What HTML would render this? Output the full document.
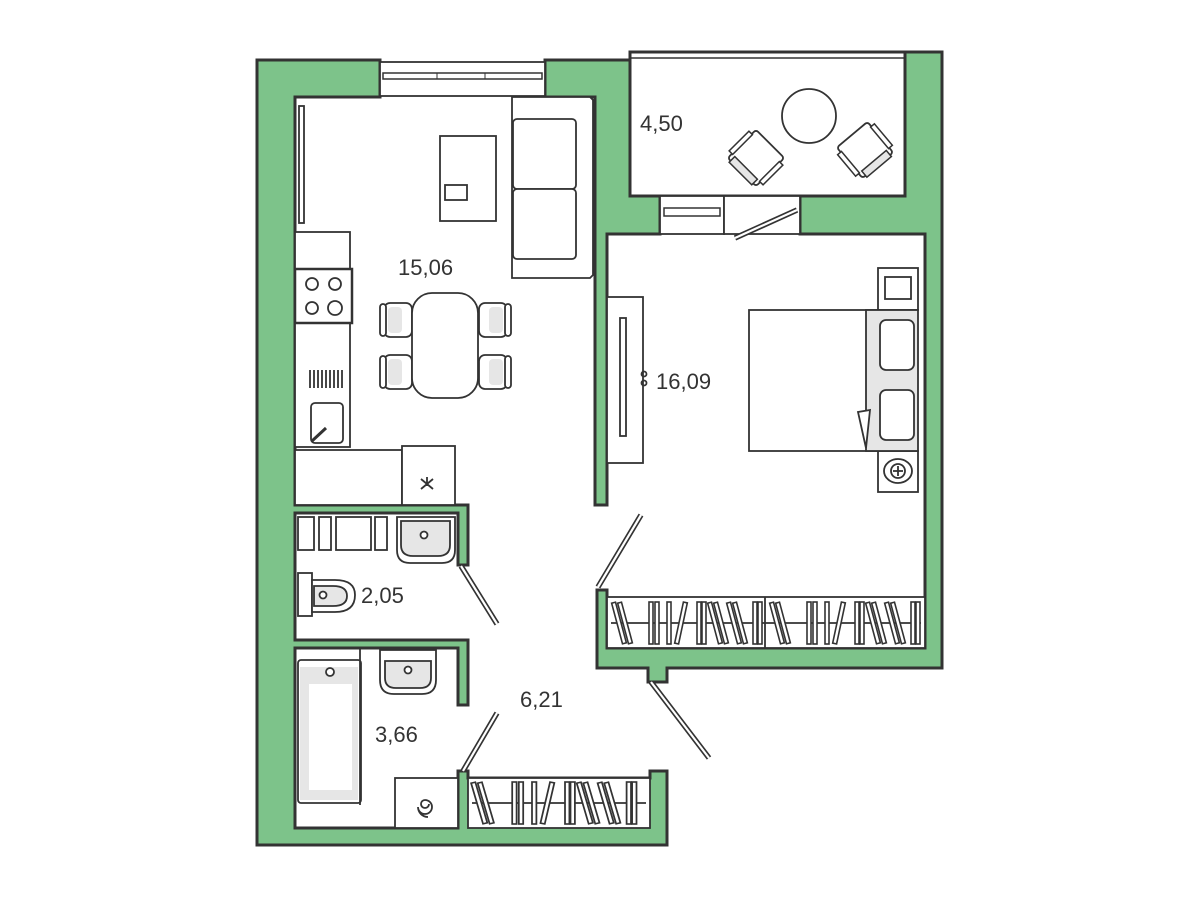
<!DOCTYPE html>
<html><head><meta charset="utf-8"><style>
html,body{margin:0;padding:0;background:#fff;width:1200px;height:900px;overflow:hidden}
svg{display:block}
text{font-family:"Liberation Sans",sans-serif;font-size:22px;fill:#333}
</style></head><body>
<svg width="1200" height="900" viewBox="0 0 1200 900" xmlns="http://www.w3.org/2000/svg">
<defs>
<g id="h"><rect x="-2" y="-21" width="4" height="42" fill="#fff" stroke="#333" stroke-width="1.6"/></g>
<g id="half">
<use href="#h" transform="translate(12,0) rotate(-15)"/>
<use href="#h" transform="translate(18,0) rotate(-15)"/>
<use href="#h" transform="translate(44,0)"/>
<use href="#h" transform="translate(50,0)"/>
<use href="#h" transform="translate(62,0)"/>
<use href="#h" transform="translate(74,0) rotate(12)"/>
<use href="#h" transform="translate(92,0)"/>
<use href="#h" transform="translate(97,0)"/>
<use href="#h" transform="translate(108,0) rotate(-15)"/>
<use href="#h" transform="translate(114,0) rotate(-15)"/>
<use href="#h" transform="translate(127,0) rotate(-15)"/>
<use href="#h" transform="translate(133,0) rotate(-15)"/>
<use href="#h" transform="translate(148,0)"/>
<use href="#h" transform="translate(153,0)"/>
</g>
<g id="chair"><rect x="-14" y="-17" width="28" height="34" rx="6" fill="#fff" stroke="#333" stroke-width="1.8"/><rect x="-10" y="-13" width="14" height="26" rx="4" fill="#e6e6e6" stroke="none"/><rect x="-18" y="-16" width="6" height="32" rx="3" fill="#fff" stroke="#333" stroke-width="1.8"/></g>
<g id="bchair"><rect x="-20" y="-20" width="40" height="40" rx="3" fill="#fff" stroke="#333" stroke-width="1.8"/><rect x="-24" y="-14" width="5" height="28" fill="#fff" stroke="#333" stroke-width="1.5"/><rect x="19" y="-14" width="5" height="28" fill="#fff" stroke="#333" stroke-width="1.5"/><rect x="-16" y="14" width="32" height="8" fill="#e6e6e6" stroke="#333" stroke-width="1.5"/></g>
</defs>
<g fill="#7dc38a" stroke="#333" stroke-width="3">
<path d="M257,60 H380 V97 H295 V505 H468 V565 H458 V513 H295 V640 H468 V705 H458 V648 H295 V828 H458 V771 H468 V778 H650 V771 H667 V845 H257 Z"/>
<path d="M545,60 H630 V196 H660 V234 H607 V505 H595 V97 H545 Z"/>
<path d="M800,196 H905 V52 H942 V668 H667 V682 H648 V668 H597 V590 H607 V648 H925 V234 H800 Z"/>
</g>
<rect x="380" y="62" width="165" height="34" fill="#fff" stroke="#333" stroke-width="1.8"/>
<rect x="383" y="73" width="159" height="6" fill="#fff" stroke="#333" stroke-width="1.5"/>
<line x1="437" y1="73" x2="437" y2="79" stroke="#333"/><line x1="485" y1="73" x2="485" y2="79" stroke="#333"/>
<rect x="630" y="52" width="275" height="144" fill="#fff" stroke="#333" stroke-width="3"/>
<line x1="630" y1="58" x2="905" y2="58" stroke="#333" stroke-width="1.5"/>
<rect x="660" y="196" width="64" height="38" fill="#fff" stroke="#333" stroke-width="1.8"/>
<rect x="664" y="208" width="56" height="8" fill="#fff" stroke="#333" stroke-width="1.5"/>
<rect x="724" y="196" width="76" height="38" fill="#fff" stroke="#333" stroke-width="1.8"/>
<g stroke="#333" stroke-width="5.5"><line x1="735" y1="238" x2="797" y2="210"/><line x1="598" y1="587" x2="641" y2="515"/><line x1="461" y1="566" x2="497" y2="624"/><line x1="463" y1="771" x2="497" y2="713"/><line x1="651" y1="682" x2="709" y2="758"/></g>
<g stroke="#fff" stroke-width="2.2"><line x1="735" y1="238" x2="797" y2="210"/><line x1="598" y1="587" x2="641" y2="515"/><line x1="461" y1="566" x2="497" y2="624"/><line x1="463" y1="771" x2="497" y2="713"/><line x1="651" y1="682" x2="709" y2="758"/></g>
<g fill="#fff" stroke="#333" stroke-width="1.8">
<rect x="299" y="106" width="5" height="117"/>
<path d="M512,97 H590 L593,100 V275 L590,278 H512 Z"/>
<rect x="513" y="119" width="63" height="70" rx="4"/><rect x="513" y="189" width="63" height="70" rx="4"/>
<rect x="440" y="136" width="56" height="85"/>
<rect x="445" y="185" width="22" height="15"/>
<rect x="295" y="232" width="55" height="215"/>
<rect x="295" y="269" width="57" height="54" stroke-width="2.5"/>
<circle cx="312" cy="284" r="6"/><circle cx="335" cy="284" r="6"/><circle cx="312" cy="308" r="6"/><circle cx="335" cy="308" r="7"/>
<rect x="311" y="403" width="32" height="40" rx="4"/>
<rect x="295" y="450" width="107" height="55"/>
<rect x="402" y="446" width="53" height="59"/>
<use href="#chair" transform="translate(398,320)"/><use href="#chair" transform="translate(398,372)"/>
<use href="#chair" transform="translate(493,320) scale(-1,1)"/><use href="#chair" transform="translate(493,372) scale(-1,1)"/>
<rect x="412" y="293" width="66" height="105" rx="20"/>
<circle cx="809" cy="116" r="27"/>
<use href="#bchair" transform="translate(756,158) rotate(45)"/>
<use href="#bchair" transform="translate(865,150) rotate(-40)"/>
<rect x="607" y="297" width="36" height="166"/>
<rect x="620" y="318" width="6" height="118"/>
<rect x="878" y="268" width="40" height="42"/>
<rect x="885" y="277" width="26" height="22"/>
<rect x="878" y="451" width="40" height="41"/>
<ellipse cx="898" cy="471" rx="14" ry="12"/><circle cx="898" cy="471" r="7"/>
<rect x="749" y="310" width="130" height="141"/>
<rect x="866" y="310" width="52" height="141" fill="#e6e6e6"/>
<rect x="880" y="320" width="34" height="50" rx="6"/><rect x="880" y="390" width="34" height="50" rx="6"/>
<path d="M870,410 L858,412 L866,448 Z"/>
<rect x="607" y="597" width="318" height="51"/>
<line x1="765" y1="597" x2="765" y2="648"/>
<rect x="468" y="778" width="182" height="50"/>
<rect x="298" y="517" width="16" height="33"/><rect x="319" y="517" width="12" height="33"/><rect x="336" y="517" width="35" height="33"/><rect x="375" y="517" width="12" height="33"/>
<path d="M397,517 H455 V550 Q455,563 442,563 H410 Q397,563 397,550 Z"/>
<path d="M401,521 H450 V545 Q450,556 438,556 H413 Q401,556 401,545 Z" fill="#e6e6e6"/>
<circle cx="424" cy="535" r="3.5"/>
<rect x="298" y="573" width="14" height="43"/>
<path d="M312,580 H335 Q355,580 355,595 Q355,612 335,612 H312 Z"/>
<path d="M314,586 H333 Q347,586 347,596 Q347,606 333,606 H314 Z" fill="#e6e6e6"/>
<circle cx="323" cy="595" r="3.5"/>
<rect x="298" y="660" width="63" height="143" rx="3"/>
<rect x="300" y="667" width="58" height="133" fill="#e6e6e6" stroke="none"/>
<rect x="309" y="684" width="43" height="106" stroke="none"/>
<circle cx="330" cy="672" r="4"/>
<line x1="360" y1="648" x2="360" y2="805"/>
<path d="M380,650 H436 V680 Q436,694 422,694 H394 Q380,694 380,680 Z"/>
<path d="M385,661 H431 V678 Q431,688 420,688 H396 Q385,688 385,678 Z" fill="#e6e6e6"/>
<circle cx="408" cy="670" r="3.5"/>
<rect x="395" y="778" width="63" height="50"/>
</g>
<g stroke="#333" stroke-width="1.8" fill="none">
<path d="M312,441 L326,428" stroke-width="3"/>
<path d="M310,370 v18 M314,370 v18 M318,370 v18 M322,370 v18 M326,370 v18 M330,370 v18 M334,370 v18 M338,370 v18 M342,370 v18"/>
<path d="M421,479 l12,10 M433,479 l-12,10 M427,477 v9"/>
<path d="M429,804 a4,4 0 1 1 -4,-4 a7,7 0 1 1 -7,7 a10,10 0 0 0 10,10"/>
<line x1="893" y1="471" x2="903" y2="471"/><line x1="898" y1="466" x2="898" y2="476"/>
<line x1="611" y1="623" x2="921" y2="623"/><line x1="472" y1="803" x2="646" y2="803"/>
<circle cx="644" cy="374" r="2.5"/><circle cx="644" cy="383" r="2.5"/>
</g>
<use href="#half" transform="translate(607,623)"/>
<use href="#half" transform="translate(765,623)"/>
<use href="#half" transform="translate(466,803) scale(1.1,1)"/>
<text x="398" y="275">15,06</text>
<text x="640" y="131">4,50</text>
<text x="656" y="389">16,09</text>
<text x="361" y="603">2,05</text>
<text x="520" y="707">6,21</text>
<text x="375" y="742">3,66</text>
</svg>
</body></html>
